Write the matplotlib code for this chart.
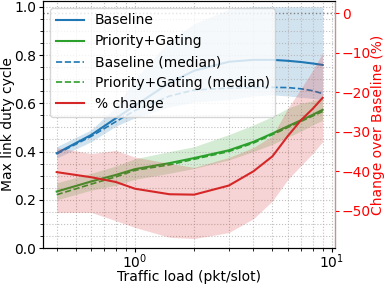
import matplotlib
matplotlib.use("Agg")
import matplotlib.pyplot as plt
from matplotlib.ticker import AutoMinorLocator

plt.rcParams["font.size"] = 10

# ---- data ----
load = [0.4, 0.6, 0.8, 1.0, 1.5, 2, 3, 4, 5, 6, 7, 8, 9]

base_mean = [0.393, 0.469, 0.538, 0.59, 0.685, 0.735, 0.772, 0.78, 0.78, 0.776, 0.771, 0.765, 0.759]
base_median = [0.39, 0.463, 0.524, 0.57, 0.63, 0.655, 0.663, 0.665, 0.666, 0.665, 0.66, 0.652, 0.64]
base_lo = [0.373, 0.441, 0.505, 0.54, 0.585, 0.605, 0.615, 0.63, 0.635, 0.63, 0.625, 0.62, 0.614]
base_hi = [0.42, 0.49, 0.585, 0.70, 0.86, 0.93, 0.99, 1.0, 1.0, 1.0, 1.0, 1.0, 1.0]

pg_mean = [0.234, 0.276, 0.303, 0.327, 0.352, 0.373, 0.405, 0.44, 0.475, 0.505, 0.53, 0.552, 0.573]
pg_median = [0.221, 0.265, 0.295, 0.322, 0.345, 0.368, 0.40, 0.435, 0.47, 0.50, 0.525, 0.547, 0.566]
pg_lo = [0.20, 0.24, 0.26, 0.285, 0.31, 0.33, 0.365, 0.40, 0.43, 0.46, 0.485, 0.51, 0.53]
pg_hi = [0.27, 0.31, 0.34, 0.37, 0.40, 0.42, 0.47, 0.51, 0.545, 0.58, 0.60, 0.61, 0.62]

change = [-40.2, -41.5, -42.7, -44.4, -45.8, -45.9, -43.6, -40.0, -36.2, -31.0, -27.0, -24.2, -21.4]
change_lo = [-50.4, -50.4, -52.5, -54.2, -56.7, -57.0, -55.5, -52.0, -47.5, -42.0, -38.5, -35.5, -32.5]
change_hi = [-34.0, -35.5, -34.7, -36.4, -38.0, -39.0, -36.5, -34.0, -31.0, -24.0, -19.0, -14.5, -10.0]

fig = plt.figure(figsize=(3.85, 2.89), dpi=100)
ax = fig.add_axes([43.3 / 385, 1 - 248 / 289, (335 - 43.3) / 385, 247 / 289])
ax2 = ax.twinx()

blue, green, red = "#1f77b4", "#2ca02c", "#d62728"

ax.fill_between(load, base_lo, base_hi, color=blue, alpha=0.2, linewidth=0)
ax.fill_between(load, pg_lo, pg_hi, color=green, alpha=0.2, linewidth=0)
l1, = ax.plot(load, base_mean, color=blue, lw=1.5, label="Baseline")
l2, = ax.plot(load, pg_mean, color=green, lw=1.5, label="Priority+Gating")
l3, = ax.plot(load, base_median, color=blue, lw=1.2, ls="--", label="Baseline (median)")
l4, = ax.plot(load, pg_median, color=green, lw=1.2, ls="--", label="Priority+Gating (median)")

ax2.fill_between(load, change_lo, change_hi, color=red, alpha=0.2, linewidth=0)
l5, = ax2.plot(load, change, color=red, lw=1.5, label="% change")
ax2.axhline(0, color="gray", ls=":", lw=1)

ax.set_xscale("log")
ax.set_xlim(0.342, 10.4)
ax.set_ylim(0, 1.024)
ax2.set_ylim(-59.4, 3.1)
ax.yaxis.set_minor_locator(AutoMinorLocator())
ax.grid(True, which="both", ls=":", color="#b0b0b0", lw=0.8, alpha=0.8)

ax.tick_params(axis="y", which="major", length=3, pad=2)
ax.tick_params(axis="x", which="major", length=3, pad=0.5)
ax2.tick_params(axis="y", colors="red", length=3, pad=2)
ax2.spines["right"].set_color("#f08080")

ax.set_xlabel("Traffic load (pkt/slot)")
ax.set_ylabel("Max link duty cycle")
ax2.set_ylabel("Change over Baseline (%)", color="red")
ax.xaxis.set_label_coords(0.5, -0.089)
ax.yaxis.set_label_coords(-0.098, 0.5)
ax2.yaxis.set_label_coords(1.123, 0.5)

ax2.legend(handles=[l1, l2, l3, l4, l5], loc="upper left")

fig.savefig("out.png", dpi=100)
